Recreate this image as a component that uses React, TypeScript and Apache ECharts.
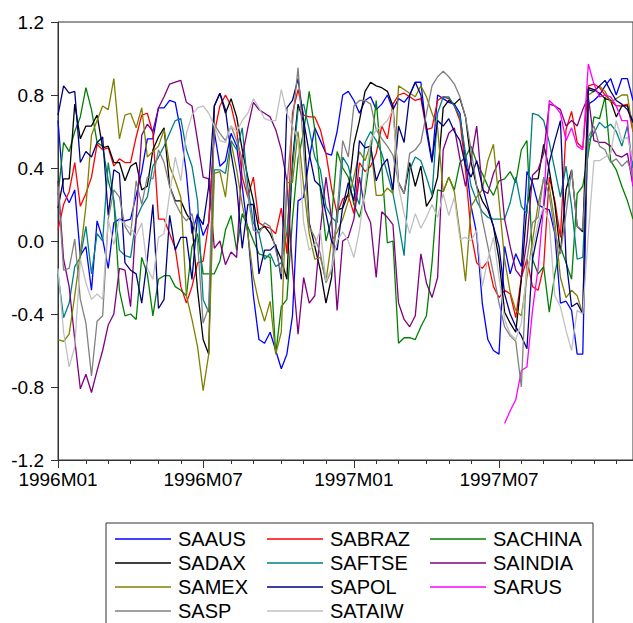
import React, { useEffect, useRef } from "react";
import * as echarts from "echarts";

const SERIES_NAMES = ["SAAUS", "SABRAZ", "SACHINA", "SADAX", "SAFTSE", "SAINDIA", "SAMEX", "SAPOL", "SARUS", "SASP", "SATAIW"];
const SERIES_COLORS = ["#0000FF", "#FF0000", "#008000", "#000000", "#008080", "#800080", "#808000", "#000080", "#FF00FF", "#808080", "#C0C0C0"];
const LEGEND_COLUMNS = [
  ["SAAUS", "SADAX", "SAMEX", "SASP"],
  ["SABRAZ", "SAFTSE", "SAPOL", "SATAIW"],
  ["SACHINA", "SAINDIA", "SARUS"],
];
const Y_MIN = -1.2;
const Y_MAX = 1.2;
const Y_STEP = 0.4;
const START_DATE = "1996-01-01";
const WEEK_COUNT = 104;
const LABEL_MONTHS = [0, 6];

const SAAUS = [
  0.66, 0.27, 0.21, 0.28, -0.08, -0.03, -0.27, 0.11, 0.01, -0.15,
  0.10, 0.12, 0.11, 0.12, 0.25, 0.38, 0.56, 0.56, 0.73, 0.73,
  0.77, 0.76, 0.60, 0.37, 0.04, 0.15, 0.03, 0.10, 0.60, 0.41,
  0.44, 0.59, 0.52, 0.30, 0.05, -0.30, -0.54, -0.56, -0.50, -0.60,
  -0.70, -0.62, -0.41, 0.22, 0.24, 0.45, 0.62, 0.55, 0.48, 0.47,
  0.60, 0.80, 0.82, 0.77, 0.70, 0.77, 0.79, 0.72, 0.75, 0.80,
  0.72, 0.78, 0.76, 0.80, 0.87, 0.87, 0.60, 0.43, 0.80, 0.78,
  0.76, 0.75, 0.70, 0.44, 0.19, 0.04, -0.34, -0.54, -0.60, -0.62,
  -0.03, -0.18, -0.07, -0.14, 0.38, 0.32, 0.20, 0.18, 0.17, 0.04,
  -0.34, -0.33, -0.38, -0.62, -0.62, 0.75, 0.77, 0.80, 0.85, 0.89,
  0.80, 0.89, 0.89, 0.77,
];
const SABRAZ = [
  0.06, 0.20, 0.27, 0.43, 0.19, 0.26, 0.35, 0.53, 0.50, 0.51,
  0.41, 0.45, 0.43, 0.43, 0.57, 0.69, 0.70, 0.59, 0.12, 0.12,
  0.04, -0.04, -0.25, -0.34, -0.25, -0.12, -0.11, 0.10, 0.59, 0.74,
  0.80, 0.74, 0.61, 0.35, 0.24, 0.35, 0.10, 0.08, 0.07, 0.04,
  0.18, -0.07, 0.70, 0.83, 0.69, 0.68, 0.68, 0.61, 0.48, 0.29,
  0.15, 0.23, 0.25, 0.15, 0.43, 0.38, 0.41, 0.48, 0.63, 0.56,
  0.75, 0.80, 0.81, 0.79, 0.77, 0.78, 0.61, 0.62, 0.77, 0.79,
  0.78, 0.74, 0.66, 0.39, 0.04, -0.12, -0.15, -0.11, -0.25, -0.31,
  -0.27, -0.29, -0.42, -0.20, -0.10, -0.25, -0.27, -0.14, 0.35, 0.22,
  0.02, 0.61, 0.71, 0.54, 0.51, 0.85, 0.86, 0.84, 0.80, 0.77,
  0.74, 0.74, 0.75, 0.60,
];
const SACHINA = [
  0.25, 0.54, 0.49, 0.60, 0.68, 0.84, 0.72, 0.54, 0.52, 0.33,
  0.22, -0.27, -0.41, -0.40, -0.43, -0.09, -0.18, -0.41, -0.21, -0.19,
  -0.19, -0.25, -0.27, -0.30, -0.03, 0.04, -0.18, -0.18, -0.18, -0.11,
  0.06, 0.14, -0.05, 0.15, 0.08, 0.00, -0.07, -0.08, -0.09, -0.62,
  -0.36, -0.32, 0.12, 0.45, 0.60, 0.82, 0.61, 0.28, 0.00, 0.12,
  0.49, 0.40, 0.35, 0.20, 0.13, 0.26, 0.48, 0.77, 0.41, -0.01,
  0.00, -0.56, -0.53, -0.53, -0.54, -0.47, -0.41, -0.12, 0.28, 0.27,
  0.35, 0.28, 0.43, 0.46, 0.52, 0.43, 0.37, 0.30, 0.25, 0.33,
  0.34, 0.38, 0.32, 0.50, 0.55, -0.10, -0.18, -0.14, -0.39, -0.18,
  -0.03, -0.12, -0.21, 0.26, 0.30, 0.48, 0.68, 0.67, 0.79, 0.44,
  0.39, 0.30, 0.22, 0.12,
];
const SADAX = [
  0.18, 0.34, 0.34, 0.75, 0.56, 0.63, 0.63, 0.69, 0.51, 0.52,
  0.43, 0.43, 0.33, 0.41, 0.43, 0.28, 0.30, 0.50, 0.57, 0.62,
  0.30, 0.22, 0.22, 0.15, 0.10, -0.27, -0.54, -0.62, 0.74, 0.81,
  0.70, 0.78, 0.68, 0.50, 0.35, 0.22, 0.06, 0.08, 0.04, -0.03,
  -0.10, -0.21, 0.44, 0.75, 0.65, 0.10, -0.03, -0.16, -0.34, -0.20,
  0.17, 0.18, 0.26, 0.53, 0.66, 0.82, 0.87, 0.85, 0.84, 0.82,
  0.74, 0.32, 0.26, 0.43, 0.30, 0.41, 0.19, 0.24, 0.35, 0.73,
  0.77, 0.75, 0.78, 0.68, 0.43, 0.30, 0.22, 0.17, 0.08, -0.10,
  -0.39, -0.45, -0.50, -0.21, 0.19, 0.34, 0.34, 0.53, 0.39, 0.20,
  -0.07, 0.28, 0.39, 0.08, 0.05, 0.84, 0.83, 0.81, 0.78, 0.77,
  0.68, 0.74, 0.74, 0.65,
];
const SAFTSE = [
  -0.18, -0.42, -0.34, -0.14, -0.09, 0.08, -0.18, 0.04, 0.00, 0.43,
  0.22, -0.05, -0.08, -0.09, 0.12, 0.19, 0.24, 0.41, 0.46, 0.52,
  0.59, 0.66, 0.67, 0.50, 0.41, 0.22, -0.32, -0.39, 0.39, 0.39,
  0.37, 0.55, 0.50, 0.62, 0.30, 0.10, 0.04, -0.10, -0.07, -0.14,
  -0.12, 0.05, 0.40, 0.72, 0.75, 0.61, 0.46, 0.39, 0.19, 0.13,
  0.10, 0.46, 0.41, 0.28, 0.20, 0.54, 0.60, 0.55, 0.48, 0.37,
  0.26, 0.10, -0.08, 0.39, 0.46, 0.44, 0.35, 0.25, 0.70, 0.79,
  0.79, 0.74, 0.68, 0.48, 0.30, 0.22, 0.16, 0.13, 0.12, 0.12,
  0.12, 0.21, 0.35, 0.19, 0.15, 0.70, 0.69, 0.66, 0.54, 0.39,
  0.24, 0.41, 0.19, -0.10, -0.09, 0.55, 0.59, 0.65, 0.62, 0.64,
  0.60, 0.52, 0.63, 0.40,
];
const SAINDIA = [
  0.33, -0.10, -0.25, -0.54, -0.81, -0.73, -0.83, -0.71, -0.60, -0.46,
  -0.40, -0.15, -0.16, -0.36, 0.12, 0.58, 0.64, 0.60, 0.73, 0.79,
  0.86, 0.87, 0.88, 0.76, 0.74, 0.55, 0.35, 0.34, -0.04, 0.00,
  -0.13, -0.06, -0.09, 0.46, 0.62, 0.76, 0.72, 0.70, 0.68, 0.61,
  0.50, 0.33, -0.15, -0.51, -0.20, -0.34, -0.30, 0.06, 0.35, 0.12,
  -0.38, 0.00, 0.02, 0.12, 0.35, 0.17, 0.10, -0.20, 0.16, 0.13,
  0.09, -0.34, -0.43, -0.47, -0.41, -0.07, -0.23, -0.31, -0.20, 0.50,
  0.59, 0.62, 0.45, 0.30, 0.45, 0.63, 0.28, 0.26, 0.37, 0.44,
  0.12, -0.03, -0.16, -0.20, 0.00, 0.36, 0.39, 0.48, 0.75, 0.74,
  0.72, 0.63, 0.66, 0.63, 0.72, 0.79, 0.55, 0.54, 0.54, 0.52,
  0.47, 0.46, 0.48, 0.30,
];
const SAMEX = [
  -0.54, -0.55, -0.51, -0.30, -0.07, 0.19, 0.58, 0.66, 0.74, 0.72,
  0.89, 0.56, 0.69, 0.70, 0.62, 0.73, 0.46, 0.49, 0.52, 0.61,
  0.41, 0.33, 0.24, -0.30, -0.43, -0.58, -0.82, -0.62, 0.37, 0.38,
  0.24, 0.54, 0.39, 0.20, 0.04, -0.20, -0.34, -0.44, -0.33, -0.62,
  -0.50, 0.32, 0.32, 0.60, 0.30, 0.04, -0.10, -0.09, -0.22, 0.00,
  0.05, 0.12, 0.22, 0.35, 0.49, 0.44, 0.53, 0.25, 0.25, 0.29,
  0.26, 0.85, 0.83, 0.81, 0.79, 0.85, 0.79, 0.70, 0.62, 0.27,
  0.35, 0.27, 0.04, -0.22, 0.19, 0.24, 0.28, 0.44, 0.53, 0.22,
  -0.10, -0.28, -0.38, -0.41, -0.20, 0.00, 0.20, 0.34, 0.30, 0.10,
  -0.20, -0.31, -0.27, -0.30, -0.40, 0.80, 0.82, 0.85, 0.82, 0.76,
  0.78, 0.80, 0.80, 0.60,
];
const SAPOL = [
  0.69, 0.85, 0.81, 0.82, 0.43, 0.49, 0.46, 0.54, 0.57, 0.14,
  0.39, 0.37, -0.12, -0.16, -0.18, -0.34, -0.10, 0.20, -0.37, -0.32,
  0.14, -0.05, 0.02, 0.02, -0.21, 0.14, 0.09, 0.30, 0.74, 0.81,
  0.72, 0.48, 0.30, -0.04, 0.20, 0.20, -0.18, -0.05, -0.05, -0.02,
  -0.21, 0.73, 0.77, 0.89, 0.66, 0.48, 0.33, 0.30, 0.15, 0.00,
  -0.05, 0.19, 0.32, 0.22, 0.55, 0.51, 0.52, 0.33, 0.41, 0.45,
  0.28, 0.63, 0.54, 0.80, 0.87, 0.80, 0.63, 0.44, 0.66, 0.63,
  0.67, 0.60, 0.55, 0.41, 0.35, 0.44, 0.30, 0.19, 0.08, -0.03,
  -0.29, -0.40, -0.47, -0.52, -0.59, -0.10, 0.05, 0.19, 0.43, 0.55,
  0.66, -0.10, -0.36, -0.34, -0.40, 0.83, 0.82, 0.85, 0.88, 0.82,
  0.77, 0.75, 0.72, 0.65,
];
const SARUS = [
  null, null, null, null, null, null, null, null, null, null,
  null, null, null, null, null, null, null, null, null, null,
  null, null, null, null, null, null, null, null, null, null,
  null, null, null, null, null, null, null, null, null, null,
  null, null, null, null, null, null, null, null, null, null,
  null, null, null, null, null, null, null, null, null, null,
  null, null, null, null, null, null, null, null, null, null,
  null, null, null, null, null, null, null, null, null, null,
  -1.00, -0.93, -0.87, -0.71, -0.69, -0.38, -0.15, 0.20, 0.77, 0.74,
  0.70, 0.55, 0.62, 0.52, 0.50, 0.97, 0.86, 0.79, 0.80, 0.79,
  0.74, 0.66, 0.66, 0.30,
];
const SASP = [
  0.30, -0.16, -0.15, 0.01, -0.32, -0.45, -0.74, -0.44, -0.41, 0.12,
  0.28, 0.24, 0.08, 0.03, 0.33, 0.20, 0.35, 0.34, 0.50, 0.43,
  0.30, 0.21, 0.15, 0.11, 0.15, -0.01, -0.45, -0.36, 0.64, 0.59,
  0.55, 0.63, 0.55, 0.45, 0.25, 0.06, 0.04, 0.10, 0.08, -0.05,
  -0.18, 0.30, 0.65, 0.95, 0.50, 0.08, 0.02, -0.07, -0.23, -0.16,
  0.15, 0.55, 0.46, 0.74, 0.77, 0.77, 0.75, 0.61, 0.56, 0.52,
  0.47, 0.32, 0.26, 0.48, 0.50, 0.54, 0.70, 0.85, 0.90, 0.93,
  0.90, 0.86, 0.79, 0.68, 0.50, 0.30, 0.12, -0.03, -0.18, -0.34,
  -0.47, -0.52, -0.55, -0.80, -0.10, 0.10, 0.13, 0.35, 0.25, 0.05,
  -0.07, 0.15, 0.39, 0.08, 0.06, 0.57, 0.63, 0.52, 0.50, 0.43,
  0.45, 0.41, 0.44, 0.35,
];
const SATAIW = [
  -0.15, -0.50, -0.69, -0.58, -0.10, -0.23, -0.32, -0.29, -0.32, 0.12,
  -0.02, 0.12, 0.09, 0.07, 0.03, 0.10, -0.15, -0.21, 0.02, 0.04,
  0.26, 0.46, 0.33, 0.59, 0.69, 0.73, 0.74, 0.70, 0.63, 0.55,
  0.54, 0.63, 0.60, 0.66, 0.70, 0.78, 0.73, 0.67, 0.66, 0.66,
  0.83, 0.70, 0.63, 0.56, 0.10, -0.05, -0.02, 0.06, -0.22, -0.15,
  0.00, 0.05, 0.00, -0.09, 0.06, 0.30, 0.55, 0.61, 0.63, 0.66,
  0.72, 0.30, 0.15, 0.04, 0.15, 0.07, 0.13, 0.20, 0.13, 0.26,
  0.14, 0.24, 0.01, 0.02, 0.00, 0.06, -0.25, -0.10, 0.02, -0.20,
  -0.43, -0.51, -0.54, -0.45, -0.16, -0.05, 0.10, 0.19, 0.10, -0.30,
  -0.36, -0.49, -0.60, -0.38, -0.40, 0.04, 0.44, 0.44, 0.46, 0.48,
  0.66, 0.55, 0.57, 0.44,
];

const SERIES_VALUES = [SAAUS, SABRAZ, SACHINA, SADAX, SAFTSE, SAINDIA, SAMEX, SAPOL, SARUS, SASP, SATAIW];

const FONT = '"Liberation Sans", Arial, Helvetica, sans-serif';

function buildWeeks(): Date[] {
  const start = new Date(START_DATE + "T00:00:00Z").getTime();
  const out: Date[] = [];
  for (let i = 0; i < WEEK_COUNT; i++) out.push(new Date(start + i * 7 * 86400000));
  return out;
}

export default function App() {
  const ref = useRef<HTMLDivElement>(null);
  useEffect(() => {
    if (!ref.current) return;
    const chart = echarts.init(ref.current, undefined, { renderer: "svg" });
    const weeks = buildWeeks();
    const cats = weeks.map((d) => d.toISOString().slice(0, 10));
    const isMonthStart = (i: number) => i === 0 || weeks[i].getUTCMonth() !== weeks[i - 1].getUTCMonth();
    const isMajor = (i: number) => isMonthStart(i) && LABEL_MONTHS.includes(weeks[i].getUTCMonth());
    const fmt = (v: string) => {
      const d = new Date(v + "T00:00:00Z");
      const m = d.getUTCMonth() + 1;
      return `${d.getUTCFullYear()}M${m < 10 ? "0" + m : m}`;
    };
    const COL_X = [115, 267, 430];
    chart.setOption({
      animation: false,
      backgroundColor: "#ffffff",
      textStyle: { fontFamily: FONT },
      grid: { left: 58, top: 22, right: 0, bottom: 163, show: true, borderColor: "#333333", borderWidth: 1, backgroundColor: "transparent" },
      xAxis: [
        {
          type: "category",
          data: cats,
          boundaryGap: false,
          axisLine: { onZero: false, lineStyle: { color: "#333333", width: 1 } },
          axisTick: { show: true, interval: (i: number) => isMonthStart(i), length: 4, lineStyle: { color: "#333333" } },
          axisLabel: { show: false },
          splitLine: { show: false },
        },
        {
          type: "category",
          data: cats,
          boundaryGap: false,
          position: "bottom",
          axisLine: { show: false, onZero: false },
          axisTick: { show: true, interval: (i: number) => isMajor(i), length: 8, lineStyle: { color: "#333333" } },
          axisLabel: {
            interval: (i: number) => isMajor(i),
            formatter: fmt,
            fontSize: 19,
            fontFamily: FONT,
            color: "#000000",
            margin: 10,
          },
          splitLine: { show: false },
        },
      ],
      yAxis: {
        type: "value",
        min: Y_MIN,
        max: Y_MAX,
        interval: Y_STEP,
        axisLine: { show: true, onZero: false, lineStyle: { color: "#333333", width: 1 } },
        axisTick: { show: true, length: 7, lineStyle: { color: "#333333" } },
        axisLabel: { formatter: (v: number) => v.toFixed(1), fontSize: 19, fontFamily: FONT, color: "#000000", margin: 14 },
        splitLine: { show: false },
      },
      legend: LEGEND_COLUMNS.map((names, c) => ({
        data: names.map((n) => ({ name: n, icon: "rect" })),
        orient: "vertical",
        left: COL_X[c],
        top: 527,
        padding: 0,
        itemWidth: 56,
        itemHeight: 1.6,
        itemGap: 0,
        selectedMode: false,
        textStyle: { fontSize: 20, lineHeight: 24, fontFamily: FONT, color: "#000000", padding: [0, 0, 0, 2] },
      })),
      graphic: [
        {
          type: "rect",
          shape: { x: 106, y: 523, width: 487, height: 120 },
          style: { fill: "none", stroke: "#333333", lineWidth: 1 },
          silent: true,
        },
      ],
      series: SERIES_NAMES.map((name, k) => ({
        name,
        type: "line",
        data: SERIES_VALUES[k],
        symbol: "none",
        showSymbol: false,
        connectNulls: false,
        lineStyle: { width: 1.3, color: SERIES_COLORS[k] },
        itemStyle: { color: SERIES_COLORS[k] },
        emphasis: { disabled: true },
        xAxisIndex: 0,
      })),
    });
    return () => chart.dispose();
  }, []);
  return <div ref={ref} style={{ position: "fixed", left: 0, top: 0, width: 633, height: 623 }} />;
}
